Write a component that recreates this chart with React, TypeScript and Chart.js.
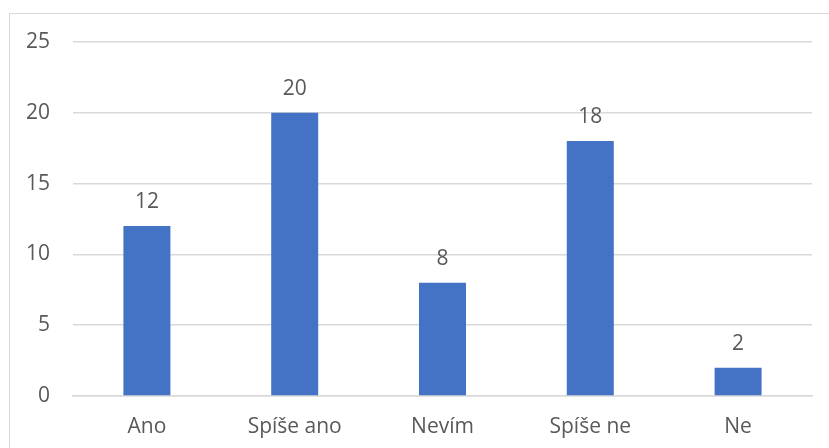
import React, { useEffect, useRef } from "react";
import { Chart, registerables } from "chart.js";

Chart.register(...registerables);

const categories = ["Ano", "Spíše ano", "Nevím", "Spíše ne", "Ne"];
const values = [12, 20, 8, 18, 2];
const yTicks = [0, 5, 10, 15, 20, 25];

const FONT = "'Open Sans', 'Noto Sans', sans-serif";
const TEXT = "#595959";

const valueLabels = {
  id: "valueLabels",
  afterDatasetsDraw(chart: any) {
    const ctx = chart.ctx;
    const meta = chart.getDatasetMeta(0);
    ctx.save();
    ctx.font = `21px ${FONT}`;
    ctx.fillStyle = TEXT;
    ctx.textAlign = "center";
    ctx.textBaseline = "alphabetic";
    meta.data.forEach((bar: any, i: number) => {
      ctx.fillText(String(values[i]), bar.x, bar.y - 18);
    });
    ctx.restore();
  },
};

export default function App() {
  const ref = useRef<HTMLCanvasElement | null>(null);
  useEffect(() => {
    document.body.style.margin = "0";
    const chart = new Chart(ref.current!, {
      type: "bar",
      data: {
        labels: categories,
        datasets: [
          {
            data: values,
            backgroundColor: "#4472C4",
            borderWidth: 0,
            barPercentage: 0.318,
            categoryPercentage: 1,
          },
        ],
      },
      options: {
        animation: false,
        responsive: false,
        maintainAspectRatio: false,
        layout: { padding: { top: 42, right: 17, bottom: 0, left: 0 } },
        plugins: { legend: { display: false }, tooltip: { enabled: false } },
        scales: {
          x: {
            grid: { display: false, drawTicks: false },
            border: { display: true, color: "#d9d9d9", width: 1.5 },
            ticks: { color: TEXT, font: { family: FONT, size: 21 }, padding: 18, maxRotation: 0 },
            afterFit(scale: any) {
              scale.height = 52;
            },
          },
          y: {
            min: 0,
            max: 25,
            afterBuildTicks(scale: any) {
              scale.ticks = yTicks.map((v) => ({ value: v }));
            },
            grid: { color: "#d9d9d9", lineWidth: 1.5, drawTicks: false },
            border: { display: false },
            ticks: { color: TEXT, font: { family: FONT, size: 21 }, padding: 23 },
            afterFit(scale: any) {
              scale.width = 73;
            },
          },
        },
      },
      plugins: [valueLabels],
    });
    return () => chart.destroy();
  }, []);
  return (
    <div style={{ position: "relative", width: 829, height: 448, overflow: "hidden", background: "#fff" }}>
      <canvas ref={ref} width={829} height={448} style={{ position: "absolute", left: 0, top: 0 }} />
      <div
        style={{
          position: "absolute",
          left: 9,
          top: 13,
          width: 900,
          height: 500,
          borderLeft: "1.5px solid #d9d9d9",
          borderTop: "1.5px solid #d9d9d9",
          pointerEvents: "none",
        }}
      />
    </div>
  );
}
